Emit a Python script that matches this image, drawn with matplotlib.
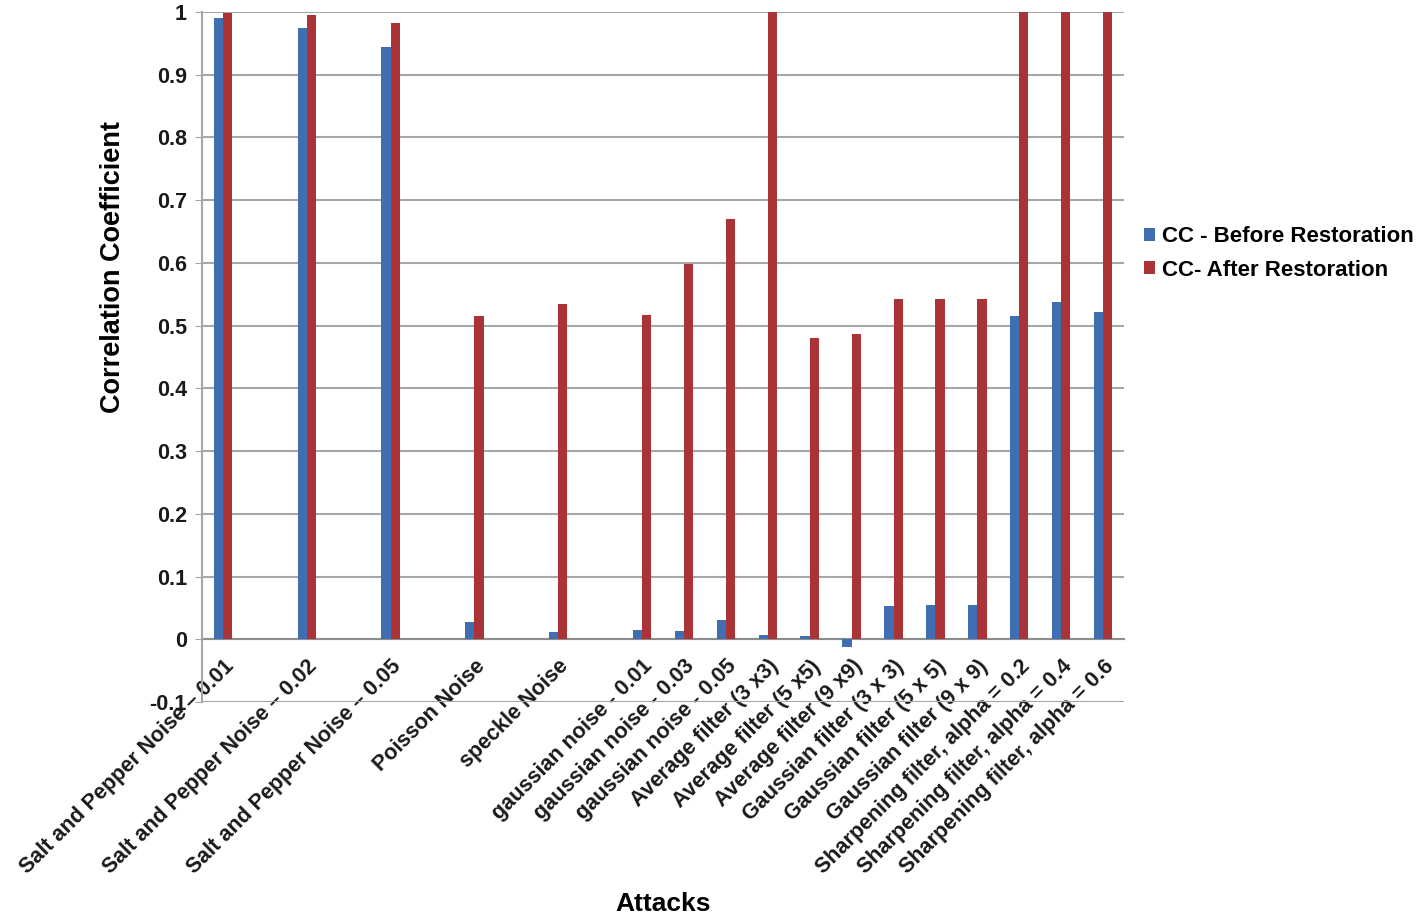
import numpy as np
import matplotlib
matplotlib.use("Agg")
import matplotlib.pyplot as plt
from matplotlib.ticker import FuncFormatter

plt.rcParams['font.family'] = ['Liberation Sans', 'DejaVu Sans']
plt.rcParams['font.weight'] = 'bold'

# categories (blank entries are empty slots in the original sheet)
categories = [
    "Salt and Pepper Noise \u2013 0.01", "",
    "Salt and Pepper Noise \u2013 0.02", "",
    "Salt and Pepper Noise \u2013 0.05", "",
    "Poisson Noise", "",
    "speckle Noise", "",
    "gaussian noise - 0.01", "gaussian noise - 0.03", "gaussian noise - 0.05",
    "Average filter (3 x3)", "Average filter (5 x5)", "Average filter (9 x9)",
    "Gaussian filter (3 x 3)", "Gaussian filter (5 x 5)", "Gaussian filter (9 x 9)",
    "Sharpening filter, alpha = 0.2", "Sharpening filter, alpha = 0.4",
    "Sharpening filter, alpha = 0.6",
]
nan = np.nan
cc_before = [0.99, nan, 0.975, nan, 0.945, nan, 0.027, nan, 0.012, nan,
             0.015, 0.013, 0.030, 0.006, 0.005, -0.013, 0.053, 0.055, 0.055,
             0.515, 0.537, 0.521]
cc_after = [0.999, nan, 0.995, nan, 0.982, nan, 0.515, nan, 0.535, nan,
            0.517, 0.598, 0.670, 1.0, 0.481, 0.487, 0.542, 0.542, 0.542,
            1.0, 1.0, 1.0]

blue = '#3F6EB3'
red = '#A93336'

fig = plt.figure(figsize=(14.16, 9.17), dpi=100)
ax = fig.add_axes([0.1427, 0.2345, 0.6511, 0.7524])

x = np.arange(len(categories))
w = 0.22
ax.bar(x - w / 2, cc_before, w, color=blue, label='CC - Before Restoration', zorder=3)
ax.bar(x + w / 2, cc_after, w, color=red, label='CC- After Restoration', zorder=3)

ax.set_xlim(-0.5, len(categories) - 0.5)
ax.set_ylim(-0.1, 1.0)
ax.set_yticks(np.arange(-0.1, 1.01, 0.1))
ax.yaxis.set_major_formatter(FuncFormatter(lambda v, p: '%g' % round(v, 1)))
ax.grid(axis='y', color='#A6A6A6', linewidth=1.5, zorder=0)

for s in ['top', 'right']:
    ax.spines[s].set_visible(False)
ax.spines['left'].set_color('#A6A6A6')
ax.spines['left'].set_linewidth(1.5)
ax.spines['bottom'].set_position(('data', 0))
ax.spines['bottom'].set_color('#8C8C8C')
ax.spines['bottom'].set_linewidth(1.5)
ax.spines['bottom'].set_zorder(2)

ax.set_xticks(x)
ax.set_xticklabels(categories, rotation=45, ha='right', rotation_mode='anchor',
                   fontsize=15.5, fontweight='bold', color='#1a1a1a')
ax.tick_params(axis='x', length=0, pad=12)
ax.tick_params(axis='y', length=5, color='#A6A6A6', labelsize=15.5, pad=6,
               labelcolor='#1a1a1a')

ax.set_ylabel('Correlation Coefficient', fontsize=19.5, fontweight='bold')
ax.yaxis.set_label_coords(-0.082, 0.63)
fig.text(0.468, 0.006, 'Attacks', fontsize=19, fontweight='bold', ha='center')

ax.legend(loc='center left', bbox_to_anchor=(1.0, 0.65), frameon=False,
          handlelength=0.5, handleheight=0.5, handletextpad=0.3,
          labelspacing=0.55, prop={'weight': 'bold', 'size': 16})

fig.savefig('out.png', dpi=100)
